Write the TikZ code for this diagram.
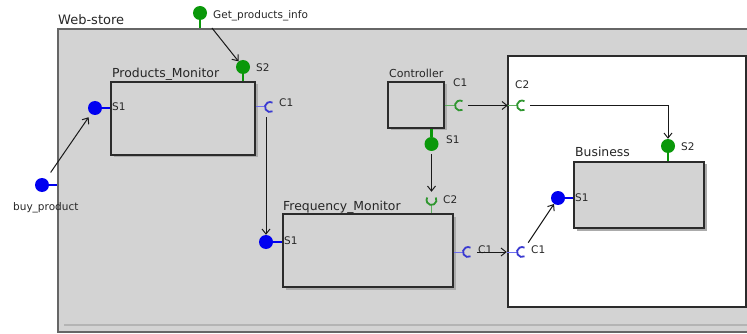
\documentclass[tikz,border=0pt]{standalone}
\usepackage{fontspec}
\setmainfont{DejaVu Sans}
\usetikzlibrary{arrows.meta, positioning, shadows}
\definecolor{panel}{HTML}{D3D3D3}
\definecolor{frame}{HTML}{666666}
\definecolor{edge}{HTML}{2B2B2B}
\definecolor{shade}{HTML}{ABABAB}
\definecolor{rail}{HTML}{B4B4B4}
\definecolor{provblue}{HTML}{0000F0}
\definecolor{provgreen}{HTML}{0A980A}
\definecolor{reqblue}{HTML}{3A3AD0}
\definecolor{reqgreen}{HTML}{2F962F}
\definecolor{stemblue}{HTML}{6F6FF0}
\definecolor{stemgreen}{HTML}{5FAF5F}

\begin{document}
\begin{tikzpicture}[x=1pt, y=-1pt, >={Straight Barb[length=5pt, width=8pt]},
  compbox/.style={draw=edge, fill=panel, line width=1.2pt, inner sep=0pt,
    drop shadow={shadow xshift=2.5pt, shadow yshift=-2.5pt, fill=shade, opacity=1}},
  provport/.style={circle, inner sep=0pt, minimum size=14pt},
  cupport/.style={circle, inner sep=0pt, minimum size=10pt},
  provstem/.style={line width=2.6pt},
  reqstem/.style={line width=1pt},
  boxlabel/.style={font=\fontsize{12.4}{14}\selectfont, text=black!85, inner sep=0pt, anchor=base west},
  portlabel/.style={font=\fontsize{10.5}{12}\selectfont, text=black!85, inner sep=0pt, anchor=base west},
  conn/.style={->, line width=1pt, draw=black!90}]

\useasboundingbox (0,0) rectangle (747,334);

% Web-store container
\node[draw=frame, fill=panel, line width=2pt, inner sep=0pt, minimum width=694pt, minimum height=303pt] (store) at (405,180.5) {};
\draw[rail, line width=2.5pt] (64,325) -- (752,325);
\node[boxlabel, font=\fontsize{13}{15}\selectfont] (store_label) at (58,25) {Web-store};

% Business container
\node[draw=edge, fill=white, line width=1.2pt, inner sep=0pt, minimum width=238pt, minimum height=251pt] (bzframe) at (627,181.5) {};

% Components
\node[compbox, minimum width=144pt, minimum height=73pt] (pm) at (183,118.5) {};
\node[compbox, minimum width=170pt, minimum height=73pt] (fm) at (368,250.5) {};
\node[compbox, minimum width=56pt, minimum height=46pt] (ctrl) at (416,105) {};
\node[compbox, minimum width=130pt, minimum height=66pt] (biz) at (639,195) {};

\node[boxlabel] (pm_label) at (112,78) {Products\_Monitor};
\node[boxlabel] (fm_label) at (283,210) {Frequency\_Monitor};
\node[boxlabel, font=\fontsize{11}{13}\selectfont] (ctrl_label) at (389,78) {Controller};
\node[boxlabel] (biz_label) at (575,157) {Business};

% Provided ports (filled)
\node[provport] (gpi) at (200,13) {};
\node[provport] (pm_s2) at (243,67) {};
\node[provport] (pm_s1) at (95,108) {};
\node[provport] (buy) at (42,185) {};
\node[provport] (fm_s1) at (266,242) {};
\node[provport] (ct_s1) at (431.5,144) {};
\node[provport] (bz_s2) at (668,146) {};
\node[provport] (bz_s1) at (558,198) {};

\foreach \p/\col in {gpi/provgreen, pm_s2/provgreen, ct_s1/provgreen, bz_s2/provgreen,
                     pm_s1/provblue, buy/provblue, fm_s1/provblue, bz_s1/provblue}
  \fill[\col] (\p) circle (7);

\draw[provstem, provgreen] (gpi) -- (gpi |- store.north);
\draw[provstem, provgreen] (pm_s2) -- (pm_s2 |- pm.north);
\draw[provstem, provblue] (pm_s1) -- (pm_s1 -| pm.west);
\draw[provstem, provblue] (buy) -- (buy -| store.west);
\draw[provstem, provblue] (fm_s1) -- (fm_s1 -| fm.west);
\draw[provstem, provgreen] (ct_s1) -- (ct_s1 |- ctrl.south);
\draw[provstem, provgreen] (bz_s2) -- (bz_s2 |- biz.north);
\draw[provstem, provblue] (bz_s1) -- (bz_s1 -| biz.west);

% Required ports (cups)
\node[cupport] (pm_c1) at (270,107) {};
\node[cupport] (ct_c1) at (460,105.5) {};
\node[cupport] (bz_c2) at (522,105.5) {};
\node[cupport] (fm_c1) at (468,252) {};
\node[cupport] (bz_c1) at (522,252) {};
\node[cupport] (fm_c2) at (431.5,200) {};

\draw[reqstem, stemblue] (pm_c1 -| pm.east) -- (pm_c1.west);
\draw[reqstem, stemgreen] (ct_c1 -| ctrl.east) -- (ct_c1.west);
\draw[reqstem, stemgreen] (bz_c2 -| bzframe.west) -- (bz_c2.west);
\draw[reqstem, stemblue] (fm_c1 -| fm.east) -- (fm_c1.west);
\draw[reqstem, stemblue] (bz_c1 -| bzframe.west) -- (bz_c1.west);
\draw[reqstem, stemgreen] (fm_c2.south) -- (fm_c2 |- fm.north);

\foreach \c/\a/\col in {pm_c1/0/reqblue, fm_c1/0/reqblue, bz_c1/0/reqblue,
                        ct_c1/0/reqgreen, bz_c2/0/reqgreen, fm_c2/270/reqgreen}
  \draw[\col, line width=1.8pt] ([shift={(\a+60:5)}]\c.center)
    arc[start angle=\a+60, end angle=\a+300, radius=5];

% Port labels
\node[portlabel] (gpi_label) at (213,19) {Get\_products\_info};
\node[portlabel] (buy_label) at (13,210) {buy\_product};
\node[portlabel] (pm_s2_label) at (256,72) {S2};
\node[portlabel] (pm_s1_label) at (112,111) {S1};
\node[portlabel] (pm_c1_label) at (279,107) {C1};
\node[portlabel] (ct_c1_label) at (453,87) {C1};
\node[portlabel] (ct_s1_label) at (446,143) {S1};
\node[portlabel] (bz_c2_label) at (515,89) {C2};
\node[portlabel] (bz_s2_label) at (681,151) {S2};
\node[portlabel] (bz_s1_label) at (575,201) {S1};
\node[portlabel] (fm_s1_label) at (284,244) {S1};
\node[portlabel] (fm_c2_label) at (443,204) {C2};
\node[portlabel] (fm_c1_label) at (478,253) {C1};
\node[portlabel] (bz_c1_label) at (531,253) {C1};

% Connectors
\draw[conn, shorten <=12pt] (gpi) -- (pm_s2);
\draw[conn, shorten <=8pt, shorten >=4pt] (buy) -- (pm_s1);
\draw[conn] (fm_s1 |- pm_c1.south) ++(0,5) -- (fm_s1);
\draw[conn, shorten <=3pt, shorten >=3pt] (ct_s1) -- (fm_c2);
\draw[conn, shorten <=3pt, shorten >=9pt] (ct_c1) -- (bz_c2);
\draw[conn, shorten <=3pt] (bz_c2) -| (bz_s2);
\draw[conn, shorten <=4pt, shorten >=10pt] (fm_c1) -- (bz_c1);
\draw[conn, shorten <=6pt] (bz_c1) -- (bz_s1);

\end{tikzpicture}
\end{document}
